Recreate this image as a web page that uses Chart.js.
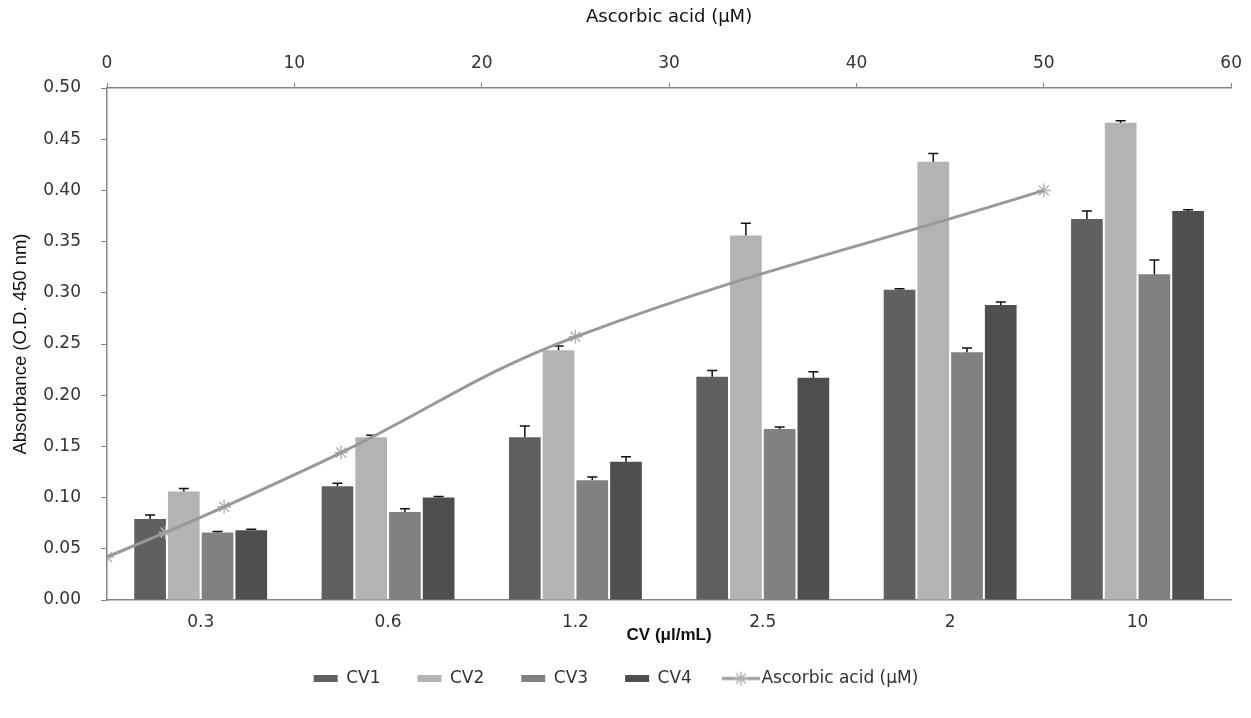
<!DOCTYPE html>
<html>
<head>
<meta charset="utf-8">
<script src="https://cdn.jsdelivr.net/npm/chart.js@4.4.1/dist/chart.umd.min.js"></script>
<style>
  html, body { margin: 0; padding: 0; background: #fff; }
  #wrap { width: 1251px; height: 718px; }
</style>
</head>
<body>
<div id="wrap"><canvas id="chart" width="1251" height="718"></canvas></div>
<script>
// ======= Data =======
const categories = ['0.3', '0.6', '1.2', '2.5', '2', '10'];

const cv1    = [0.079, 0.111, 0.159, 0.218, 0.303, 0.372];
const cv1Err = [0.004, 0.003, 0.011, 0.006, 0.001, 0.008];
const cv2    = [0.106, 0.159, 0.244, 0.356, 0.428, 0.466];
const cv2Err = [0.003, 0.002, 0.004, 0.012, 0.008, 0.002];
const cv3    = [0.066, 0.086, 0.117, 0.167, 0.242, 0.318];
const cv3Err = [0.001, 0.003, 0.003, 0.002, 0.004, 0.014];
const cv4    = [0.068, 0.100, 0.135, 0.217, 0.288, 0.380];
const cv4Err = [0.001, 0.001, 0.005, 0.006, 0.003, 0.001];

// ascorbic acid standard curve (top axis, µM)
const acidX = [0, 3.125, 6.25, 12.5, 25, 50];
const acidY = [0.042, 0.066, 0.091, 0.144, 0.257, 0.400];

const yTicks = [0, 0.05, 0.10, 0.15, 0.20, 0.25, 0.30, 0.35, 0.40, 0.45, 0.50];

// the six CV groups share the 0-60 secondary axis: each group spans 10 units
const TOP_MAX = 60;
const groupSpan = TOP_MAX / categories.length;
const groupCenter = categories.map((c, i) => (i + 0.5) * groupSpan);

// ======= Styles =======
const TICK_FONT = { family: 'DejaVu Sans', size: 17 };
const AXIS_COLOR = '#868686';
const TEXT_COLOR = '#333';
const LINE_COLOR = '#999';

// small icon for the line entry of the legend (line with star marker)
function lineIcon() {
  const c = document.createElement('canvas');
  c.width = 38; c.height = 16;
  const g = c.getContext('2d');
  g.strokeStyle = LINE_COLOR; g.lineWidth = 3;
  g.beginPath(); g.moveTo(0, 8); g.lineTo(38, 8); g.stroke();
  g.strokeStyle = '#b4b4b4'; g.lineWidth = 1.5;
  g.beginPath();
  for (let k = 0; k < 4; k++) {
    const a = k * Math.PI / 4;
    g.moveTo(19 - 7 * Math.cos(a), 8 - 7 * Math.sin(a));
    g.lineTo(19 + 7 * Math.cos(a), 8 + 7 * Math.sin(a));
  }
  g.stroke();
  return c;
}

// Draw error bars right after each bar dataset
const errorBars = {
  id: 'errorBars',
  afterDatasetDraw(chart, args) {
    const ds = chart.data.datasets[args.index];
    if (!ds.errors) return;
    const ctx = chart.ctx;
    const y = chart.scales.y;
    ctx.save();
    ctx.strokeStyle = '#111';
    ctx.lineWidth = 1.5;
    args.meta.data.forEach((bar, i) => {
      const top = y.getPixelForValue(ds.data[i].y + ds.errors[i]);
      ctx.beginPath();
      ctx.moveTo(bar.x, bar.y);
      ctx.lineTo(bar.x, top);
      ctx.moveTo(bar.x - 5, top);
      ctx.lineTo(bar.x + 5, top);
      ctx.stroke();
    });
    ctx.restore();
  }
};

function barSet(label, values, errors, color) {
  return {
    type: 'bar', label, errors,
    data: values.map((v, i) => ({ x: groupCenter[i], y: v })),
    backgroundColor: color, borderWidth: 0,
    xAxisID: 'xTop', yAxisID: 'y',
    categoryPercentage: 0.72, barPercentage: 0.94,
    pointStyle: 'rect', order: 1
  };
}

new Chart(document.getElementById('chart'), {
  data: {
    labels: categories,
    datasets: [
      barSet('CV1', cv1, cv1Err, '#606060'),
      barSet('CV2', cv2, cv2Err, '#b3b3b3'),
      barSet('CV3', cv3, cv3Err, '#818181'),
      barSet('CV4', cv4, cv4Err, '#4f4f4f'),
      {
        type: 'line',
        label: 'Ascorbic acid (μM)',
        data: acidX.map((x, i) => ({ x, y: acidY[i] })),
        xAxisID: 'xTop', yAxisID: 'y',
        borderColor: LINE_COLOR, borderWidth: 3,
        tension: 0.4,
        pointStyle: lineIcon(),
        pointRadius: 0,
        order: 0
      },
      {
        // star markers of the same series (hidden from legend)
        type: 'line',
        label: '_markers',
        data: acidX.map((x, i) => ({ x, y: acidY[i] })),
        xAxisID: 'xTop', yAxisID: 'y',
        showLine: false,
        pointStyle: 'star', pointRadius: 7,
        pointBorderColor: '#b4b4b4', pointBorderWidth: 1.5,
        order: 0
      }
    ]
  },
  options: {
    responsive: false,
    animation: false,
    layout: { padding: { left: 0, right: 19, top: 0, bottom: 21 } },
    plugins: {
      tooltip: { enabled: false },
      legend: {
        position: 'bottom',
        labels: {
          usePointStyle: true,
          pointStyleWidth: 24,
          boxHeight: 7,
          padding: 37,
          color: TEXT_COLOR,
          font: { family: 'DejaVu Sans', size: 17 },
          filter: item => item.text !== '_markers',
          sort: (a, b) => a.datasetIndex - b.datasetIndex
        }
      }
    },
    scales: {
      x: {
        type: 'category',
        position: 'bottom',
        offset: true,
        grid: { display: false, drawTicks: false },
        border: { display: true, color: AXIS_COLOR, width: 1.5 },
        ticks: { color: TEXT_COLOR, font: TICK_FONT, padding: 12 },
        title: {
          display: true, text: 'CV (μl/mL)', color: '#111',
          font: { family: 'Liberation Sans', size: 17, weight: 'bold' },
          padding: { top: 0, bottom: -13 }
        },
        afterFit: s => { s.height = 33; }
      },
      xTop: {
        type: 'linear',
        position: 'top',
        min: 0, max: TOP_MAX,
        offset: false,
        grid: { offset: false, drawOnChartArea: false, drawTicks: true, tickLength: 5, color: AXIS_COLOR },
        border: { display: true, color: AXIS_COLOR, width: 1.5 },
        ticks: { stepSize: 10, color: TEXT_COLOR, font: TICK_FONT, padding: 9 },
        title: {
          display: true, text: 'Ascorbic acid (μM)', color: '#111',
          font: { family: 'DejaVu Sans', size: 18 },
          padding: { top: 7, bottom: 0 }
        },
        afterFit: s => { s.height = 88; }
      },
      y: {
        type: 'linear',
        position: 'left',
        min: 0, max: 0.5,
        grid: { drawOnChartArea: false, drawTicks: true, tickLength: 6, color: AXIS_COLOR },
        border: { display: true, color: AXIS_COLOR, width: 1.5 },
        afterBuildTicks: s => { s.ticks = yTicks.map(v => ({ value: v })); },
        ticks: {
          color: TEXT_COLOR, font: TICK_FONT, padding: 20,
          callback: v => Number(v).toFixed(2)
        },
        title: {
          display: true, text: 'Absorbance (O.D. 450 nm)', color: '#111',
          font: { family: 'Liberation Sans', size: 18.5 },
          padding: { top: 10, bottom: 0 }
        },
        afterFit: s => { s.width = 107; }
      }
    }
  },
  plugins: [errorBars]
});
</script>
</body>
</html>
